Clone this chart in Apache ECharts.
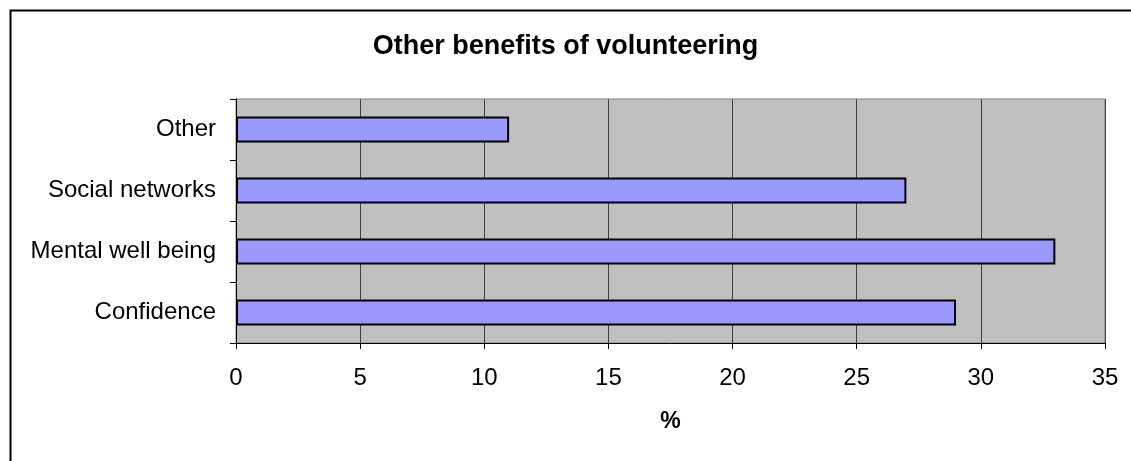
<!DOCTYPE html>
<html><head><meta charset="utf-8">
<script src="https://cdn.jsdelivr.net/npm/echarts@6/dist/echarts.min.js"></script>
<style>html,body{margin:0;padding:0;background:#fff}#c{width:1131px;height:461px}</style>
</head><body><div id="c"></div>
<script>
const categories = ["Confidence", "Mental well being", "Social networks", "Other"];
const values = [29, 33, 27, 11];
const xTicks = [0, 5, 10, 15, 20, 25, 30, 35];
const title = "Other benefits of volunteering";
const xName = "%";

const chart = echarts.init(document.getElementById('c'), null, {renderer: 'canvas'});
const font = 'Liberation Sans, Arial, sans-serif';
chart.setOption({
  animation: false,
  backgroundColor: '#ffffff',
  graphic: [{
    type: 'rect', left: 8, top: 8, z: 100,
    shape: {x: 0, y: 0, width: 1140, height: 500},
    style: {fill: 'none', stroke: '#000', lineWidth: 2}
  }],
  title: {
    text: title, left: 'center', top: 28,
    textStyle: {fontFamily: font, fontSize: 27, fontWeight: 'bold', color: '#000'}
  },
  grid: {left: 236, right: 26, top: 99, bottom: 118, show: true, backgroundColor: '#C0C0C0', borderWidth: 1, borderColor: '#808080'},
  xAxis: {
    type: 'value', min: xTicks[0], max: xTicks[xTicks.length - 1], interval: 5,
    name: xName, nameLocation: 'middle', nameGap: 67,
    nameTextStyle: {fontFamily: font, fontSize: 23, fontWeight: 'bold', color: '#000'},
    axisLine: {show: true, lineStyle: {color: '#000', width: 1}},
    axisTick: {show: true, length: 6, lineStyle: {color: '#000'}},
    axisLabel: {fontFamily: font, fontSize: 24, color: '#000', margin: 23},
    splitLine: {show: true, lineStyle: {color: '#404040', width: 1}}
  },
  yAxis: {
    type: 'category', data: categories,
    axisLine: {show: true, lineStyle: {color: '#000', width: 1}},
    axisTick: {show: true, length: 6, lineStyle: {color: '#000'}},
    axisLabel: {fontFamily: font, fontSize: 24, color: '#000', margin: 20},
    splitLine: {show: false}
  },
  series: [{
    type: 'bar', data: values, barWidth: '43%',
    itemStyle: {color: '#9999FF', borderColor: '#000', borderWidth: 2}
  }]
});
</script></body></html>
